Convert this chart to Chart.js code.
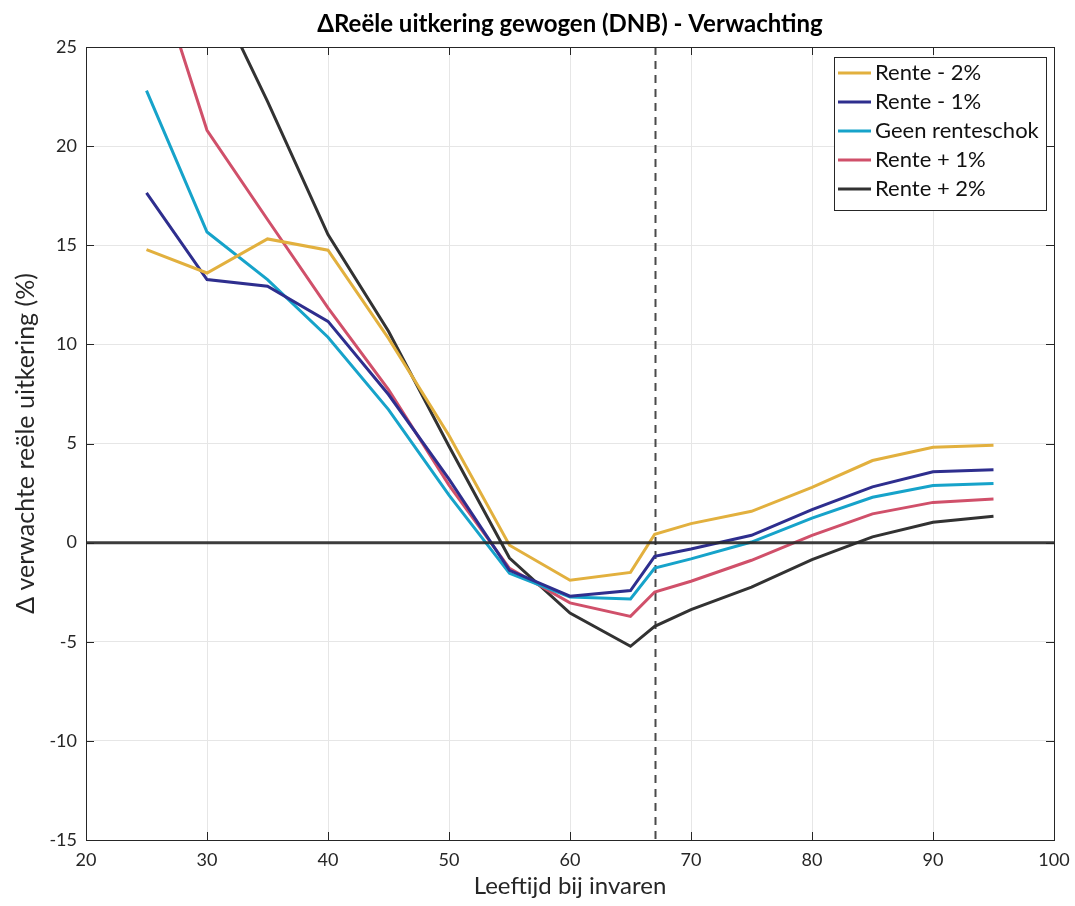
<!DOCTYPE html>
<html>
<head>
<meta charset="utf-8">
<script src="https://cdn.jsdelivr.net/npm/chart.js@4/dist/chart.umd.min.js"></script>
<style>
  html, body { margin: 0; padding: 0; background: #fff; }
  #wrap { width: 1075px; height: 906px; }
</style>
</head>
<body>
<div id="wrap"><canvas id="uitkering-canvas"></canvas></div>
<script>
// leeftijd bij invaren
var leeftijden = [25, 30, 35, 40, 45, 50, 55, 60, 65, 67, 70, 75, 80, 85, 90, 95];

var renteMin2 = [14.78, 13.6, 15.32, 14.75, 10.3, 5.4, -0.13, -1.9, -1.5, 0.42, 0.96, 1.58, 2.79, 4.14, 4.81, 4.91];
var renteMin1 = [17.64, 13.27, 12.93, 11.16, 7.47, 3.2, -1.4, -2.7, -2.42, -0.69, -0.32, 0.37, 1.66, 2.81, 3.57, 3.68];
var geenSchok = [22.8, 15.67, 13.27, 10.36, 6.71, 2.4, -1.55, -2.74, -2.84, -1.28, -0.82, 0.03, 1.24, 2.29, 2.88, 2.98];
var rentePlus1 = [30.3, 20.8, 16.3, 11.84, 7.72, 2.9, -1.3, -3.04, -3.72, -2.49, -1.95, -0.89, 0.37, 1.45, 2.03, 2.2];
var rentePlus2 = [36, 28.6, 22.26, 15.54, 10.66, 4.86, -0.78, -3.55, -5.23, -4.22, -3.38, -2.25, -0.86, 0.29, 1.03, 1.33];

var reeksNamen = ['Rente - 2%', 'Rente - 1%', 'Geen renteschok', 'Rente + 1%', 'Rente + 2%'];
var reeksKleuren = ['rgb(226, 176, 62)', 'rgb(46, 46, 142)', 'rgb(22, 163, 202)', 'rgb(208, 80, 106)', 'rgb(50, 50, 50)'];

var xTicks = [20, 30, 40, 50, 60, 70, 80, 90, 100];
var yTicks = [-15, -10, -5, 0, 5, 10, 15, 20, 25];
var invaarLeeftijd = 67;

var titel = '\u0394Re\u00eble uitkering gewogen (DNB) - Verwachting';

var fontFamily = 'Lato, "Open Sans", sans-serif';
var textColor = '#262626';

function punten(waarden) {
    return leeftijden.map(function (x, i) { return { x: x, y: waarden[i] }; });
}

var alleReeksen = [renteMin2, renteMin1, geenSchok, rentePlus1, rentePlus2];
var datasets = alleReeksen.map(function (r, i) {
    return {
        label: reeksNamen[i],
        data: punten(r),
        borderColor: reeksKleuren[i],
        backgroundColor: reeksKleuren[i],
        borderWidth: 3,
        pointRadius: 0,
        tension: 0,
        fill: false
    };
});

// title over the plot, zero line, dashed vertical line, frame with inward ticks, legend box
var extrasPlugin = {
    id: 'extras',
    beforeDatasetsDraw: function (chart) {
        var ctx = chart.ctx, a = chart.chartArea;
        var xs = chart.scales.x;
        ctx.save();
        var xv = Math.round(xs.getPixelForValue(invaarLeeftijd)) + 0.5;
        ctx.strokeStyle = '#4a4a4a';
        ctx.lineWidth = 2;
        ctx.setLineDash([8, 6]);
        ctx.beginPath();
        ctx.moveTo(xv, a.top);
        ctx.lineTo(xv, a.bottom);
        ctx.stroke();
        ctx.restore();
    },
    afterDatasetsDraw: function (chart) {
        var ctx = chart.ctx, a = chart.chartArea;
        var xs = chart.scales.x, ys = chart.scales.y;
        ctx.save();

        // title
        ctx.fillStyle = '#000';
        ctx.font = 'bold 24px ' + fontFamily;
        ctx.textAlign = 'center';
        ctx.textBaseline = 'middle';
        ctx.fillText(titel, (a.left + a.right) / 2, 24);

        // zero line
        var y0 = ys.getPixelForValue(0);
        ctx.strokeStyle = 'rgba(40, 40, 40, 0.9)';
        ctx.lineWidth = 3;
        ctx.beginPath();
        ctx.moveTo(a.left, y0);
        ctx.lineTo(a.right, y0);
        ctx.stroke();

        // inward ticks
        ctx.strokeStyle = '#262626';
        ctx.lineWidth = 1;
        var tl = 8;
        xTicks.forEach(function (v) {
            var px = Math.round(xs.getPixelForValue(v)) + 0.5;
            ctx.beginPath();
            ctx.moveTo(px, a.bottom); ctx.lineTo(px, a.bottom - tl);
            ctx.moveTo(px, a.top); ctx.lineTo(px, a.top + tl);
            ctx.stroke();
        });
        yTicks.forEach(function (v) {
            var py = Math.round(ys.getPixelForValue(v)) + 0.5;
            ctx.beginPath();
            ctx.moveTo(a.left, py); ctx.lineTo(a.left + tl, py);
            ctx.moveTo(a.right, py); ctx.lineTo(a.right - tl, py);
            ctx.stroke();
        });
        // frame
        ctx.strokeRect(Math.round(a.left) + 0.5, Math.round(a.top) + 0.5,
            Math.round(a.right - a.left), Math.round(a.bottom - a.top));

        // legend
        var bx = 834.5, by = 57.5, bw = 212, bh = 153;
        ctx.fillStyle = '#fff';
        ctx.fillRect(bx, by, bw, bh);
        ctx.strokeStyle = '#262626';
        ctx.lineWidth = 1;
        ctx.strokeRect(bx, by, bw, bh);
        ctx.font = '22px ' + fontFamily;
        ctx.textBaseline = 'middle';
        ctx.textAlign = 'left';
        chart.data.datasets.forEach(function (ds, i) {
            var ly = 73 + i * 29;
            ctx.strokeStyle = ds.borderColor;
            ctx.lineWidth = 3;
            ctx.beginPath();
            ctx.moveTo(838, ly);
            ctx.lineTo(871, ly);
            ctx.stroke();
            ctx.fillStyle = '#111';
            ctx.fillText(ds.label, 875, ly);
        });
        ctx.restore();
    }
};

var uitkeringCanvas = document.getElementById('uitkering-canvas').getContext('2d');

var uitkeringChart = new Chart(uitkeringCanvas, {
    type: 'line',
    data: { datasets: datasets },
    options: {
        responsive: true,
        maintainAspectRatio: false,
        animation: false,
        layout: {
            padding: { left: 0, right: 21, top: 47, bottom: 0 }
        },
        scales: {
            x: {
                type: 'linear',
                min: 20,
                max: 100,
                afterFit: function (scale) {
                    scale.height = 66;
                    scale.paddingLeft = 0;
                    scale.paddingRight = 0;
                },
                afterBuildTicks: function (scale) {
                    scale.ticks = xTicks.map(function (v) { return { value: v }; });
                },
                grid: {
                    color: '#e6e6e6',
                    drawTicks: false
                },
                border: { display: false },
                ticks: {
                    color: textColor,
                    padding: 9,
                    maxRotation: 0,
                    font: { family: fontFamily, size: 18 }
                },
                title: {
                    display: true,
                    text: 'Leeftijd bij invaren',
                    color: textColor,
                    padding: { top: 0, bottom: 5 },
                    font: { family: fontFamily, size: 24 }
                }
            },
            y: {
                min: -15,
                max: 25,
                afterFit: function (scale) {
                    scale.width = 86;
                    scale.paddingTop = 0;
                    scale.paddingBottom = 0;
                },
                afterBuildTicks: function (scale) {
                    scale.ticks = yTicks.map(function (v) { return { value: v }; });
                },
                grid: {
                    color: '#e6e6e6',
                    drawTicks: false
                },
                border: { display: false },
                ticks: {
                    color: textColor,
                    padding: 9,
                    font: { family: fontFamily, size: 18 }
                },
                title: {
                    display: true,
                    text: '\u0394 verwachte re\u00eble uitkering (%)',
                    color: textColor,
                    padding: { top: 11, bottom: 0 },
                    font: { family: fontFamily, size: 25 }
                }
            }
        },
        plugins: {
            legend: { display: false },
            tooltip: { enabled: false },
            title: { display: false }
        }
    },
    plugins: [extrasPlugin]
});
</script>
</body>
</html>
